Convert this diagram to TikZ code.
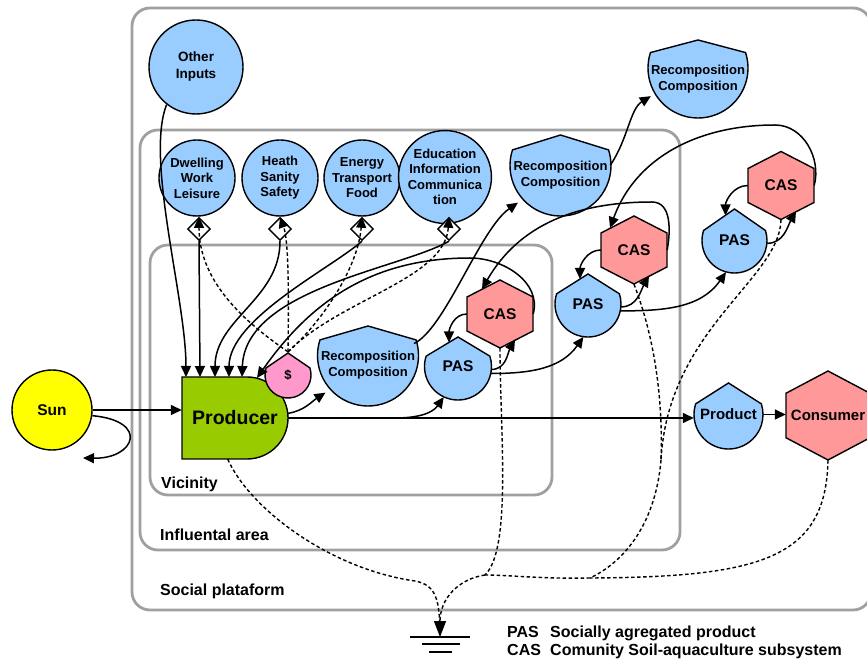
\documentclass[tikz,border=0pt]{standalone}
\usepackage{fontspec}
\setmainfont{Liberation Sans}
\usetikzlibrary{arrows.meta,shapes.geometric,calc}
\definecolor{skyblue}{HTML}{99CCFF}
\definecolor{casred}{HTML}{FF9999}
\definecolor{leafgreen}{HTML}{99CC00}
\definecolor{sunyellow}{HTML}{FFFF00}
\definecolor{cashpink}{HTML}{FF99CC}
\definecolor{framegray}{HTML}{A0A0A0}

\begin{document}
\begin{tikzpicture}[x=1pt, y=1pt, >={Triangle[length=11pt,width=10pt]},
  flow/.style={->, line width=1.5pt},
  money/.style={->, line width=1.4pt, dash pattern=on 3.5pt off 2.5pt},
  drain/.style={line width=1.4pt, dash pattern=on 3.5pt off 2.5pt},
  outline/.style={draw, line width=1.4pt},
  frame/.style={draw=framegray, line width=2.8pt, rounded corners=18pt},
  small/.style={font=\bfseries\fontsize{13}{15.5}\selectfont, align=center, inner sep=0pt},
  big/.style={font=\bfseries\fontsize{15.5}{18}\selectfont, align=center, inner sep=0pt},
  area/.style={font=\bfseries\fontsize{16}{18}\selectfont, anchor=base west, inner sep=0pt},
  anchorbox/.style={circle, minimum size=#1, inner sep=0pt},
  hexbox/.style={rectangle, minimum width=66pt, minimum height=68pt, inner sep=0pt}]
\useasboundingbox (0,0) rectangle (867,659);

% areas
\draw[frame] (132,49) rectangle (871,651);
\draw[frame] (140,109) rectangle (680,529);
\draw[frame] (150,164) rectangle (552,414);
\node[area] (socl) at (160,64) {Social plataform};
\node[area] (infl) at (160,119) {Influental area};
\node[area] (vicl) at (161,171) {Vicinity};

% sources
\node[outline, circle, fill=sunyellow, minimum size=80pt, big] (sun) at (52,249) {Sun};
\node[outline, circle, fill=skyblue, minimum size=94pt, small, font=\bfseries\fontsize{13.5}{17}\selectfont] (oth) at (196,592) {Other\\Inputs};
\node[outline, circle, fill=skyblue, minimum size=76pt, small] (dwl) at (197,481) {Dwelling\\Work\\Leisure};
\node[outline, circle, fill=skyblue, minimum size=76pt, small] (hea) at (280,481) {Heath\\Sanity\\Safety};
\node[outline, circle, fill=skyblue, minimum size=76pt, small] (ene) at (362,481) {Energy\\Transport\\Food};
\node[outline, circle, fill=skyblue, minimum size=76pt, small] (edu) at (445,482) {Education\\Information\\Communica\\tion};

\node[outline, diamond, fill=white, minimum size=23pt, inner sep=0pt] (dia1) at (199,430) {};
\node[outline, diamond, fill=white, minimum size=23pt, inner sep=0pt] (dia2) at (280,430) {};
\node[outline, diamond, fill=white, minimum size=23pt, inner sep=0pt] (dia3) at (362,430) {};
\node[outline, diamond, fill=white, minimum size=23pt, inner sep=0pt] (dia4) at (449,430) {};

% producer and money
\path[outline, fill=leafgreen] (182,200) -- (182,282) -- (247,282) arc[start angle=90, end angle=-90, radius=41pt] -- cycle;
\node[minimum width=106pt, minimum height=82pt, inner sep=0pt, font=\bfseries\fontsize{19.5}{22}\selectfont] (producer) at (235,241) {Producer};
\path[outline, fill=cashpink] (288,284) ++(162:23pt) arc[start angle=162, end angle=378, radius=23pt] -- (288,306) -- cycle;
\node[anchorbox=46pt, small] (dollar) at (288,284) {\$};

\coordinate (pin1) at (186,282);
\coordinate (pin2) at (200,282);
\coordinate (pin3) at (215,282);
\coordinate (pin4) at (229,282);
\coordinate (pin5) at (242,282);
\coordinate (pin6) at (257,281);
\coordinate (sink) at (83,201);

% recomposition
\path[outline, fill=skyblue] (368,303.5) ++(162:50.5pt) arc[start angle=162, end angle=378, radius=50.5pt] -- (368,333) -- cycle;
\node[anchorbox=101pt, small] (recv) at (368,294) {Recomposition\\Composition};
\path[outline, fill=skyblue] (560.5,493.5) ++(162:50.5pt) arc[start angle=162, end angle=378, radius=50.5pt] -- (560.5,524) -- cycle;
\node[anchorbox=101pt, small] (reci) at (560.5,484) {Recomposition\\Composition};
\path[outline, fill=skyblue] (698,591) ++(162:50pt) arc[start angle=162, end angle=378, radius=50pt] -- (698,619) -- cycle;
\node[anchorbox=100pt, small] (reco) at (698,580) {Recomposition\\Composition};

% PAS and CAS
\path[outline, fill=skyblue] (458,292.5) ++(162:33.5pt) arc[start angle=162, end angle=378, radius=33.5pt] -- (458,322) -- cycle;
\node[anchorbox=67pt, big] (pas1) at (458,292.5) {PAS};
\path[outline, fill=casred] (500,345) ++(0,34) -- ++(33,-17) -- ++(0,-34) -- ++(-33,-17) -- ++(-33,17) -- ++(0,34) -- cycle;
\node[hexbox, big] (cas1) at (500,345) {CAS};
\path[outline, fill=skyblue] (588,355) ++(162:33pt) arc[start angle=162, end angle=378, radius=33pt] -- (588,385) -- cycle;
\node[anchorbox=66pt, big] (pas2) at (588,355) {PAS};
\path[outline, fill=casred] (634,409) ++(0,34) -- ++(33,-17) -- ++(0,-34) -- ++(-33,-17) -- ++(-33,17) -- ++(0,34) -- cycle;
\node[hexbox, big] (cas2) at (634,409) {CAS};
\path[outline, fill=skyblue] (734.5,418.5) ++(162:32.5pt) arc[start angle=162, end angle=378, radius=32.5pt] -- (734.5,450) -- cycle;
\node[anchorbox=65pt, big] (pas3) at (734.5,418.5) {PAS};
\path[outline, fill=casred] (781,473.5) ++(0,34) -- ++(33,-17) -- ++(0,-34) -- ++(-33,-17) -- ++(-33,17) -- ++(0,34) -- cycle;
\node[hexbox, big] (cas3) at (781,473.5) {CAS};

% product and consumer
\path[outline, fill=skyblue] (728.5,244.5) ++(162:34.5pt) arc[start angle=162, end angle=378, radius=34.5pt] -- (728.5,276) -- cycle;
\node[anchorbox=69pt, big, font=\bfseries\fontsize{15}{18}\selectfont] (product) at (728.5,244.5) {Product};
\path[outline, fill=casred] (828,243.5) ++(0,44.5) -- ++(42,-22.25) -- ++(0,-44.5) -- ++(-42,-22.25) -- ++(-42,22.25) -- ++(0,44.5) -- cycle;
\node[hexbox, minimum width=84pt, minimum height=89pt, big, font=\bfseries\fontsize{15}{18}\selectfont] (consumer) at (828,243.5) {Consumer};

% inputs to the producer
\draw[flow] (sun.east) -- (sun.east -| producer.west);
\draw[flow] (sun.-8) .. controls (150,238) and (135,200) .. (sink);
\draw[flow] (oth.232) .. controls (145,500) and (186,360) .. (pin1);
\draw[flow] (dia1.south) -- (pin2);
\draw[flow] (dia2.south) .. controls (280,360) and (215,340) .. (pin3);
\draw[flow] (dia3.south) .. controls (330,390) and (229,340) .. (pin4);
\draw[flow] (dia4.south) .. controls (400,390) and (245,370) .. (pin5);
\draw[flow] (cas1.east) to[out=75,in=0] (470,401) to[out=180,in=55] (pin6);

% money paid for the inputs
\draw[money] (dollar.north) .. controls (240,340) and (199,380) .. (dia1.north);
\draw[money] (dollar.north) .. controls (289,380) and (288,420) .. (dia2.north);
\draw[money] (dollar.north) .. controls (320,335) and (358,390) .. (dia3.north);
\draw[money] (dollar.north) .. controls (340,360) and (445,380) .. (dia4.north);

% outputs
\draw[flow] (producer.5) to[out=10,in=213] (recv.213);
\draw[flow] (producer.east) -- (producer.east -| product.west);
\draw[flow] (producer.east) -- ++(107,0) to[out=0,in=235] (pas1.245);
\draw[flow] (product.east) -- (product.east -| consumer.west);
\draw[flow] (recv.25) .. controls (445,330) and (480,430) .. (reci.213);
\draw[flow] (reci.11) .. controls (628,520) and (630,550) .. (reco.200);

% PAS / CAS chain
\draw[flow] (cas1.west) to[out=180,in=90] ($(pas1)+(-9,24)$);
\draw[flow] (pas1.-5) to[out=0,in=240] ($(cas1)+(15,-26)$);
\draw[flow] (pas1.-12) to[out=0,in=235] (pas2.262);
\draw[flow] (cas2.west) to[out=180,in=90] ($(pas2)+(-8,25)$);
\draw[flow] (pas2.-5) to[out=0,in=240] ($(cas2)+(15,-26)$);
\draw[flow] (pas2.-12) to[out=0,in=235] (pas3.255);
\draw[flow] (cas3.west) to[out=180,in=90] ($(pas3)+(-9,25)$);
\draw[flow] (pas3.-5) to[out=0,in=240] ($(cas3)+(15,-26)$);
\draw[flow] (cas2.east) to[out=80,in=0] (652,457) to[out=180,in=60] ($(cas1)+(-18,25)$);
\draw[flow] (cas3.east) to[out=75,in=0] (775,534) to[out=180,in=70] ($(cas2)+(-24,22)$);

% degraded energy to the sink
\coordinate (gnd) at (440,22);
\coordinate (jb) at (485,84);
\coordinate (jc) at (590,81);
\coordinate (jd) at (661,199);
\draw[drain] (producer.260) .. controls (250,150) and (330,90) .. (415,78) .. controls (436,74) and (440,60) .. (gnd);
\draw[drain] (cas1.south) .. controls (500,230) and (512,110) .. (jb);
\draw[drain] (cas2.south) .. controls (655,320) and (663,260) .. (jd);
\draw[drain] (cas3.south) .. controls (780,380) and (668,330) .. (jd);
\draw[drain] (jd) .. controls (655,130) and (620,95) .. (jc);
\draw[drain] (consumer.south) .. controls (826,100) and (760,82) .. (jc);
\draw[drain] (jc) .. controls (540,80) and (510,84) .. (jb);
\draw[drain, -{Triangle[length=16pt,width=12pt]}] (jb) .. controls (458,80) and (440,60) .. (gnd);
\draw[line width=1.5pt] ($(gnd)+(-30,0)$) -- ++(60,0);
\draw[line width=1.5pt] ($(gnd)+(-18,-7)$) -- ++(38,0);
\draw[line width=1.5pt] ($(gnd)+(-11,-15)$) -- ++(23,0);

% legend
\node[area] (kpas) at (507,22) {PAS};
\node[area] (kpasd) at (550,22) {Socially agregated product};
\node[area] (kcas) at (507,4) {CAS};
\node[area] (kcasd) at (550,4) {Comunity Soil-aquaculture subsystem};
\end{tikzpicture}
\end{document}
